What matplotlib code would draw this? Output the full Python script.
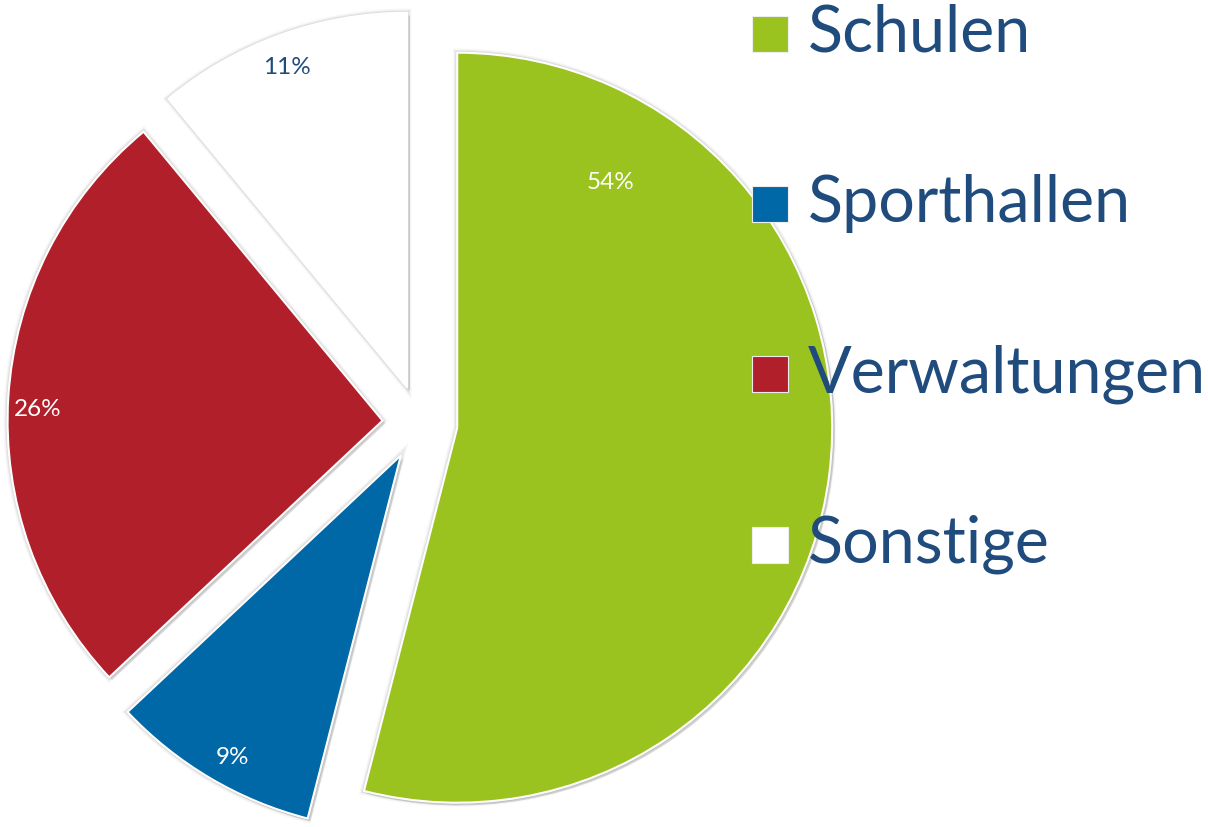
import matplotlib
matplotlib.use('Agg')
import matplotlib.pyplot as plt
import matplotlib.patheffects as pe
from matplotlib.patches import Rectangle

# data
categories = ['Schulen', 'Sporthallen', 'Verwaltungen', 'Sonstige']
shares = [54, 9, 26, 11]
colors = ['#9BC31F', '#0068A6', '#B11F2A', '#FFFFFF']
label_colors = ['white', 'white', 'white', '#1F4B7D']

navy = '#1F4B7D'
plt.rcParams['font.family'] = ['Lato', 'DejaVu Sans']

W, H = 1208, 827
fig = plt.figure(figsize=(W / 100, H / 100), dpi=100)
ax = fig.add_axes([0, 0, 1, 1])

# pie centre at (420, 423) px, radius 375 px
cx, cy, r = 420, 423, 375
wedges, texts, autotexts = ax.pie(
    shares, colors=colors, startangle=90, counterclock=False,
    explode=[0.1] * 4, radius=1, autopct='%d%%',
    wedgeprops=dict(edgecolor='white', linewidth=1.5),
    textprops=dict(fontsize=17.5))
# soft shadow around each slice
for w in wedges:
    w.set_path_effects([
        pe.SimplePatchShadow(offset=(2, -2), shadow_rgbFace='black', alpha=0.12),
        pe.Stroke(linewidth=6, foreground='black', alpha=0.03),
        pe.Stroke(linewidth=4, foreground='black', alpha=0.05),
        pe.Stroke(linewidth=2.5, foreground='black', alpha=0.07),
        pe.Normal()])

# label positions (as placed in the original, pie radius units)
label_pos = [(0.507, 0.64), (-0.499, -0.891), (-1.019, 0.035), (-0.355, 0.947)]
for t, pos, c in zip(autotexts, label_pos, label_colors):
    t.set_position(pos)
    t.set_color(c)
    t.set_ha('center')
    t.set_va('center')

ax.set_xlim(-cx / r, (W - cx) / r)
ax.set_ylim(-(H - cy) / r, cy / r)
ax.set_aspect('auto')
ax.axis('off')

# legend drawn by hand
baselines = [52, 222, 392, 563]
for name, col, yb in zip(categories, colors, baselines):
    fig.add_artist(Rectangle((752 / W, 1 - yb / H), 36 / W, 36 / H,
                             transform=fig.transFigure, facecolor=col,
                             edgecolor='#eeeeee', linewidth=0.8, zorder=5))
    fig.text(808 / W, 1 - yb / H, name, fontsize=46.5, color=navy,
             ha='left', va='baseline', zorder=6)

fig.savefig('out.png', dpi=100)
